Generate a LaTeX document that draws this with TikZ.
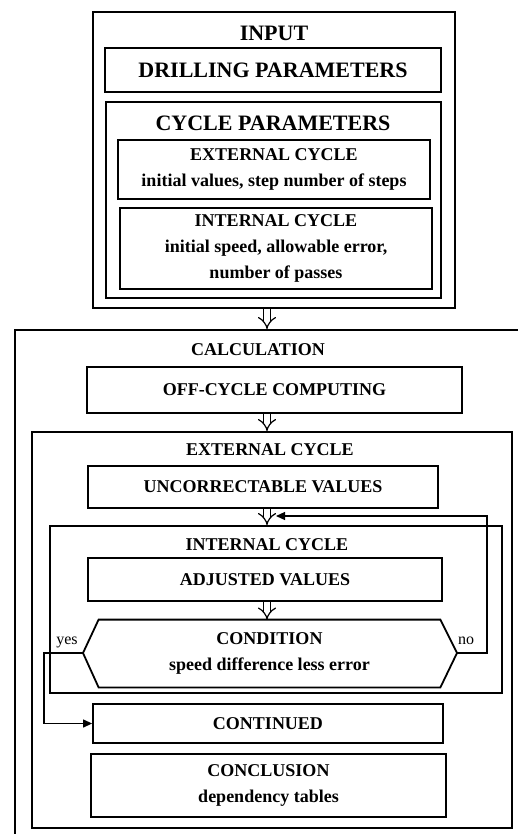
\documentclass[tikz,border=0pt]{standalone}
\usepackage{fontspec}
\setmainfont{Liberation Serif}
\usetikzlibrary{fit,arrows.meta}

\begin{document}
\begin{tikzpicture}[x=0.5pt, y=-0.5pt,
    frame/.style={rectangle, draw, line width=0.9pt, inner sep=0pt},
    big/.style={font=\bfseries\fontsize{11}{13}\selectfont},
    small/.style={font=\bfseries\fontsize{9}{13}\selectfont, align=center},
    tag/.style={font=\fontsize{8}{9}\selectfont},
    dbl/.style={double, double distance=2.6pt, line width=0.6pt, -{Implies}},
    fb/.style={line width=0.6pt, -{Triangle[length=4.5pt, width=4pt]}}]
    \useasboundingbox (0,0) rectangle (518,834);
    \clip (0,0) rectangle (518,834);
    \coordinate (axis) at (267,0);

    % input block
    \node (input) [frame, fit={(93,12) (455,308)}] {};
    \node (inputtitle) [big] at (274,33) {INPUT};
    \node (drill) [frame, big, minimum width=168pt, minimum height=22pt] at (273,70) {DRILLING PARAMETERS};
    \node (cyclepar) [frame, fit={(106,102) (441,298)}] {};
    \node (cycletitle) [big] at (273,123) {CYCLE PARAMETERS};
    \node (extin) [frame, small, minimum width=156pt, minimum height=29.5pt] at (274,169.5) {EXTERNAL CYCLE\\initial values, step number of steps};
    \node (intin) [frame, small, minimum width=156pt, minimum height=40.5pt] at (276,248.5) {INTERNAL CYCLE\\initial speed, allowable error,\\number of passes};

    % calculation block
    \node (calc) [frame, fit={(15,330) (560,880)}] {};
    \node (calctitle) [small] at (258,350) {CALCULATION};
    \node (offcycle) [frame, small, minimum width=187.5pt, minimum height=23pt] at (274.5,390) {OFF-CYCLE COMPUTING};
    \node (extcyc) [frame, fit={(32,432) (512,828)}] {};
    \node (exttitle) [small] at (270,450) {EXTERNAL CYCLE};
    \node (uncorr) [frame, small, minimum width=175pt, minimum height=21pt] at (263,487) {UNCORRECTABLE VALUES};
    \node (intcyc) [frame, fit={(50,526) (502,693)}] {};
    \node (inttitle) [small] at (267,545) {INTERNAL CYCLE};
    \node (adjusted) [frame, small, minimum width=177pt, minimum height=21.5pt] at (265,579.5) {ADJUSTED VALUES};
    \node (cond) [small, inner sep=0pt, minimum width=170.5pt, minimum height=33.5pt] at (269.5,653.5) {CONDITION\\speed difference less error};
    \coordinate (condL) at (83,653);
    \coordinate (condR) at (457,653);
    \draw[line width=0.9pt] (cond.north west) -- (cond.north east) -- (condR) -- (cond.south east) -- (cond.south west) -- (condL) -- cycle;
    \node (cont) [frame, small, minimum width=175pt, minimum height=19.5pt] at (268,723.5) {CONTINUED};
    \node (concl) [frame, small, minimum width=177.5pt, minimum height=31.5pt] at (268.5,785.5) {CONCLUSION\\dependency tables};
    \node (yes) [tag] at (67,642) {yes};
    \node (no) [tag] at (466,641) {no};
    \coordinate (merge) at (276,516);

    \draw[dbl] (input.south -| axis) -- (calc.north -| axis);
    \draw[dbl] (offcycle.south -| axis) -- (extcyc.north -| axis);
    \draw[dbl] (uncorr.south -| axis) -- (intcyc.north -| axis);
    \draw[dbl] (adjusted.south -| axis) -- (cond.north -| axis);
    \draw[fb] (condR) -- ++(30,0) |- (merge);
    \draw[fb] (condL) -- ++(-39,0) |- (cont.west);
\end{tikzpicture}
\end{document}
